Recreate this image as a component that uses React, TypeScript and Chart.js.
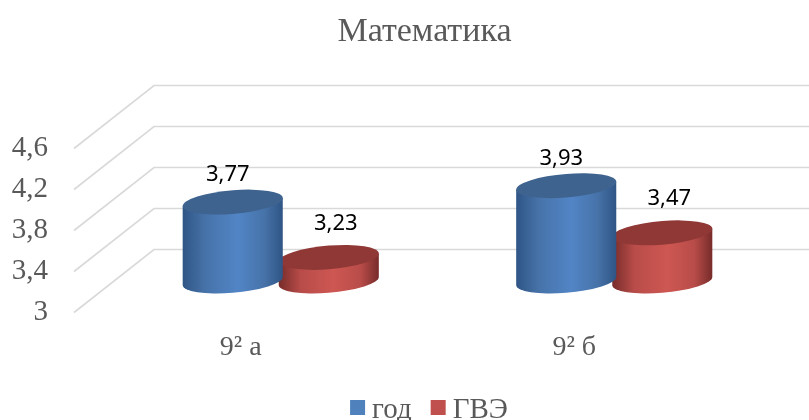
import React, { useEffect, useRef } from "react";
import { Chart, registerables } from "chart.js";

Chart.register(...registerables);

const categories = ["9² а", "9² б"];
const seriesNames = ["год", "ГВЭ"];
const yearValues = [3.77, 3.93];
const gveValues = [3.23, 3.47];
const seriesColors = ["#4F81BD", "#C0504D"];
const seriesEdges = ["#2F5585", "#772C2A"];
const seriesMids = ["#4672A8", "#B84C49"];
const seriesLights = ["#5285C6", "#CE5752"];
const seriesTops = ["#3E638F", "#8F3836"];
const labelShiftX = [-5, 7];
const labelShiftY = [-27, -34];

const SERIF = '"Liberation Serif", serif';
const DEPTH_X = 40;
const DEPTH_Y = 31.5;
const TILT = 4;
const MINOR = 11.8;
const LEGEND_CENTER = 429;
const TITLE_BOX_LEFT = 68;

const fmt = (v: number) => String(+v.toFixed(2)).replace(".", ",");

const depthGrid = {
  id: "depthGrid",
  afterLayout(chart: any) {
    if (chart.titleBlock) chart.titleBlock.left = TITLE_BOX_LEFT;
  },
  beforeDatasetsDraw(chart: any) {
    const { ctx, scales, chartArea, width } = chart;
    ctx.save();
    ctx.strokeStyle = "#D9D9D9";
    ctx.lineWidth = 1.6;
    scales.y.ticks.forEach((t: any) => {
      const y = scales.y.getPixelForValue(t.value);
      ctx.beginPath();
      ctx.moveTo(chartArea.left - DEPTH_X, y + DEPTH_Y);
      ctx.lineTo(chartArea.left + DEPTH_X, y - DEPTH_Y);
      ctx.lineTo(width, y - DEPTH_Y);
      ctx.stroke();
    });
    ctx.restore();
  },
};

const cylinders = {
  id: "cylinders",
  beforeDatasetDraw(chart: any, args: any) {
    const { ctx, scales } = chart;
    const i = args.index;
    const meta = chart.getDatasetMeta(i);
    const base = scales.y.getPixelForValue(scales.y.min);
    meta.data.forEach((bar: any) => {
      const { x, y, width } = bar.getProps(["x", "y", "width"], true);
      const a = width / 2;
      const shear = -TILT / a;
      const grad = ctx.createLinearGradient(x - a, 0, x + a, 0);
      grad.addColorStop(0, seriesEdges[i]);
      grad.addColorStop(0.22, seriesMids[i]);
      grad.addColorStop(0.55, seriesLights[i]);
      grad.addColorStop(0.82, seriesMids[i]);
      grad.addColorStop(1, seriesEdges[i]);
      ctx.save();
      ctx.beginPath();
      ctx.moveTo(x - a, y + TILT);
      ctx.lineTo(x - a, base + TILT);
      ctx.save();
      ctx.transform(1, shear, 0, 1, x, base);
      ctx.ellipse(0, 0, a, MINOR, 0, Math.PI, 0, true);
      ctx.restore();
      ctx.lineTo(x + a, y - TILT);
      ctx.closePath();
      ctx.fillStyle = grad;
      ctx.fill();
      ctx.beginPath();
      ctx.save();
      ctx.transform(1, shear, 0, 1, x, y);
      ctx.ellipse(0, 0, a, MINOR, 0, 0, Math.PI * 2);
      ctx.restore();
      ctx.fillStyle = seriesTops[i];
      ctx.fill();
      ctx.restore();
    });
    return false;
  },
  afterDatasetsDraw(chart: any) {
    const { ctx } = chart;
    ctx.save();
    ctx.font = '22px "Noto Sans", sans-serif';
    ctx.fillStyle = "#000000";
    ctx.textAlign = "center";
    ctx.textBaseline = "middle";
    chart.data.datasets.forEach((ds: any, i: number) => {
      chart.getDatasetMeta(i).data.forEach((bar: any, j: number) => {
        ctx.fillText(fmt(ds.data[j]), bar.x + labelShiftX[i], bar.y + labelShiftY[i]);
      });
    });
    ctx.restore();
  },
};

const tightLegend = {
  id: "tightLegend",
  afterDraw(chart: any) {
    const { ctx } = chart;
    const box = 15;
    const gap = 7;
    const between = 19;
    ctx.save();
    ctx.font = `29px ${SERIF}`;
    ctx.textBaseline = "alphabetic";
    ctx.textAlign = "left";
    const items = chart.data.datasets.map((d: any) => ({
      text: d.label,
      color: d.backgroundColor,
      w: ctx.measureText(d.label).width,
    }));
    const total = items.reduce((s: number, it: any) => s + box + gap + it.w, 0) + between * (items.length - 1);
    let x = LEGEND_CENTER - total / 2;
    items.forEach((it: any) => {
      ctx.fillStyle = it.color;
      ctx.fillRect(x, 400, box, box);
      ctx.fillStyle = "#595959";
      ctx.fillText(it.text, x + box + gap, 418);
      x += box + gap + it.w + between;
    });
    ctx.restore();
  },
};

export default function App() {
  const ref = useRef<HTMLCanvasElement>(null);
  useEffect(() => {
    document.body.style.margin = "0";
    const chart = new Chart(ref.current as HTMLCanvasElement, {
      type: "bar",
      data: {
        labels: categories,
        datasets: [
          { label: seriesNames[0], data: yearValues, backgroundColor: seriesColors[0] },
          { label: seriesNames[1], data: gveValues, backgroundColor: seriesColors[1] },
        ],
      },
      options: {
        animation: false,
        responsive: false,
        layout: { padding: { right: 28 } },
        datasets: { bar: { categoryPercentage: 0.576, barPercentage: 1.042 } },
        plugins: {
          legend: { display: false },
          tooltip: { enabled: false },
          title: {
            display: true,
            text: "Математика",
            color: "#595959",
            font: { family: SERIF, size: 34, weight: "normal", lineHeight: 1.2 },
            padding: { top: 11.5, bottom: 64.7 },
          },
        },
        scales: {
          x: {
            grid: { display: false },
            border: { display: false },
            afterFit(s: any) { s.height = 139; },
            ticks: {
              color: "#595959",
              font: { family: SERIF, size: 28 },
              padding: 42,
              labelOffset: -DEPTH_X,
              maxRotation: 0,
            },
          },
          y: {
            min: 3,
            max: 4.6,
            grid: { display: false },
            border: { display: false },
            afterFit(s: any) { s.width = 114; },
            ticks: {
              stepSize: 0.4,
              color: "#595959",
              font: { family: SERIF, size: 29 },
              padding: 58,
              labelOffset: DEPTH_Y,
              callback: (v: any) => fmt(Number(v)),
            },
          },
        },
      },
      plugins: [depthGrid, cylinders, tightLegend],
    } as any);
    return () => chart.destroy();
  }, []);
  return <canvas ref={ref} width={809} height={420} style={{ display: "block" }} />;
}
